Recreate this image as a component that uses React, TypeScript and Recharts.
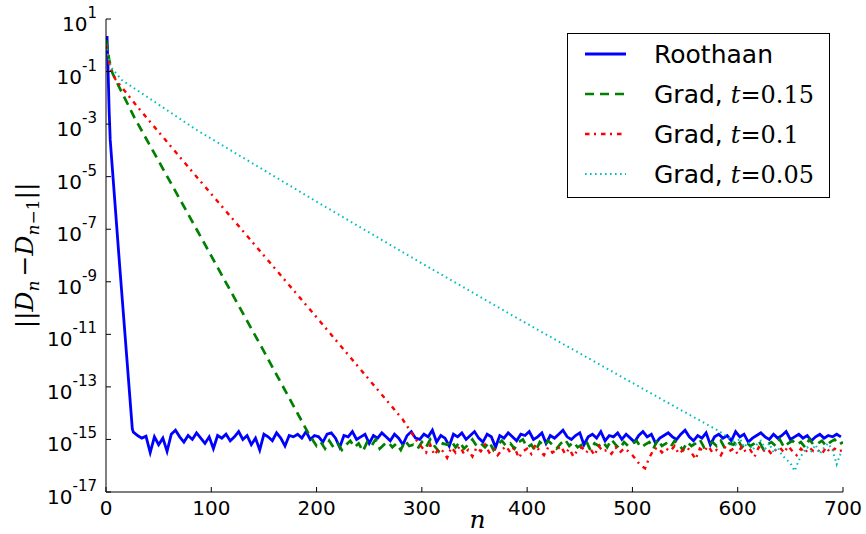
import { LineChart, Line, XAxis, YAxis, Label } from "recharts";

const xTicks = [0, 100, 200, 300, 400, 500, 600, 700];
const yTickExps = [1, -1, -3, -5, -7, -9, -11, -13, -15, -17];

// iterations are sampled every 4 steps once a method hits the round-off floor
const floorStep = 4;

// values are log10 of ||D_n - D_{n-1}||
const roothaanDecayN = [0, 1, 2, 3, 4, 13, 25];
const roothaanDecayExp = [0.3, 0.3, -1.0, -2.5, -3.6, -8.4, -14.6];
const roothaanFloorStart = 26;
const roothaanFloorExp = [
  -14.72, -14.85, -14.95, -14.88, -15.5, -14.9, -15.2, -14.95, -15.45, -14.8,
  -14.65, -14.9, -15.1, -14.85, -15.0, -14.75, -14.95, -15.15, -14.9, -15.35,
  -14.85, -14.95, -14.8, -15.05, -14.9, -14.7, -15.0, -14.85, -15.2, -14.95,
  -15.4, -14.8, -14.9, -15.05, -14.75, -14.95, -15.25, -14.85, -14.9, -14.8,
  -14.95, -14.7, -15.0, -14.85, -14.9, -15.1, -14.8, -14.75, -14.95, -15.3,
  -14.85, -14.9, -14.7, -15.0, -14.9, -14.8, -15.15, -14.85, -14.95, -14.75,
  -14.9, -15.05, -14.8, -14.95, -15.2, -14.85, -14.7, -14.95, -15.0, -14.8,
  -14.9, -14.65, -15.1, -14.85, -14.95, -15.25, -14.8, -14.9, -14.75, -15.0,
  -14.85, -14.7, -14.95, -15.1, -14.8, -14.9, -15.3, -14.85, -14.95, -14.75,
  -14.9, -15.05, -14.8, -14.85, -14.7, -15.0, -14.9, -14.75, -15.15, -14.85,
  -14.95, -14.8, -14.65, -14.9, -15.0, -14.85, -14.75, -15.2, -14.9, -14.8,
  -14.95, -14.7, -15.05, -14.85, -14.9, -14.75, -15.0, -14.8, -14.95, -15.1,
  -14.85, -14.7, -14.9, -14.8, -15.15, -14.95, -14.85, -14.75, -14.9, -15.0,
  -14.8, -14.65, -14.9, -15.05, -14.85, -14.95, -14.75, -15.2, -14.9, -14.8,
  -14.95, -14.85, -15.05, -14.7, -14.9, -14.8, -15.1, -14.95, -14.85, -14.75,
  -14.9, -15.0, -14.8, -14.95, -14.85, -14.7, -15.0, -14.9, -14.8, -14.95,
  -14.85, -15.05, -14.9, -14.8, -14.95, -14.85, -14.9, -14.8, -14.9,
];

const grad15DecayN = [0, 1, 3, 6, 12, 27, 86, 150, 192];
const grad15DecayExp = [0.2, 0.0, -0.55, -1.05, -1.55, -2.75, -7.0, -11.65, -14.75];
const grad15FloorStart = 196;
const grad15FloorExp = [
  -15.0, -15.25, -15.1, -15.35, -15.05, -15.3, -15.15, -15.4, -15.2, -15.05,
  -15.3, -15.15, -15.45, -15.1, -15.25, -15.0, -15.35, -15.2, -15.1, -15.3,
  -15.15, -15.4, -15.05, -15.25, -15.2, -15.35, -15.1, -15.3, -15.0, -15.25,
  -15.45, -15.15, -15.2, -15.05, -15.3, -15.1, -15.35, -15.2, -15.0, -15.25,
  -15.15, -15.3, -15.1, -15.4, -15.2, -15.05, -15.25, -15.15, -15.35, -15.1,
  -15.0, -15.3, -15.2, -15.45, -15.1, -15.25, -15.05, -15.2, -15.35, -15.15,
  -15.0, -15.25, -15.1, -15.3, -15.2, -15.05, -15.4, -15.15, -15.25, -15.1,
  -15.3, -15.0, -15.2, -15.35, -15.1, -15.25, -15.15, -15.05, -15.3, -15.2,
  -15.1, -15.35, -15.0, -15.25, -15.15, -15.3, -15.05, -15.2, -15.4, -15.1,
  -15.25, -15.15, -15.0, -15.3, -15.2, -15.1, -15.25, -15.05, -15.35, -15.15,
  -15.2, -15.0, -15.3, -15.1, -15.25, -15.15, -15.05, -15.35, -15.2, -15.1,
  -15.25, -15.0, -15.3, -15.15, -15.05, -15.2, -15.1, -15.3, -15.0, -15.2,
  -15.15, -15.05, -15.25, -15.1, -15.0, -15.2, -15.1,
];

const grad10DecayN = [0, 2, 5, 9, 30, 87, 200, 282, 296];
const grad10DecayExp = [0.0, -0.5, -0.95, -1.3, -2.35, -5.05, -10.35, -14.25, -15.1];
const grad10FloorStart = 300;
const grad10FloorExp = [
  -15.3, -15.5, -15.2, -15.6, -15.35, -15.45, -15.7, -15.3, -15.5, -15.25,
  -15.55, -15.4, -15.65, -15.3, -15.45, -15.2, -15.5, -15.35, -15.6, -15.4,
  -15.25, -15.5, -15.3, -15.7, -15.45, -15.35, -15.55, -15.2, -15.45, -15.6,
  -15.3, -15.5, -15.4, -15.25, -15.55, -15.35, -15.65, -15.4, -15.3, -15.5,
  -15.35, -15.6, -15.25, -15.45, -15.4, -15.55, -15.3, -15.5, -15.35, -15.45,
  -15.6, -15.8, -16.0, -16.1, -15.7, -15.4, -15.3, -15.5, -15.35, -15.45,
  -15.25, -15.55, -15.4, -15.3, -15.5, -15.75, -15.35, -15.45, -15.25, -15.5,
  -15.4, -15.6, -15.3, -15.45, -15.35, -15.55, -15.25, -15.5, -15.4, -15.65,
  -15.3, -15.45, -15.35, -15.55, -15.4, -15.3, -15.5, -15.25, -15.45, -15.6,
  -15.35, -15.5, -15.3, -15.45, -15.4, -15.55, -15.3, -15.5, -15.35, -15.45,
  -15.4,
];

const grad05DecayN = [0, 2, 5, 15, 86, 200, 300, 400, 529, 583, 590];
const grad05DecayExp = [0.05, -0.45, -0.85, -1.32, -3.22, -5.95, -8.3, -10.6, -13.5, -14.7, -14.9];
const grad05FloorStart = 594;
const grad05FloorExp = [
  -15.0, -15.2, -14.95, -15.3, -15.1, -15.4, -15.2, -15.05, -15.35, -15.15,
  -15.5, -15.3, -15.6, -15.75, -15.9, -16.2, -15.8, -15.5, -15.3, -15.45,
  -15.2, -15.55, -15.3, -15.15, -15.4, -15.95, -15.5,
];

function buildSeries(decayN: number[], decayExp: number[], floorStart: number, floorExp: number[]) {
  const pts = decayN.map((n, i) => ({ n, v: Math.pow(10, decayExp[i]) }));
  floorExp.forEach((e, i) => pts.push({ n: floorStart + i * floorStep, v: Math.pow(10, e) }));
  return pts;
}

const series = [
  {
    key: "roothaan",
    label: "Roothaan",
    t: "",
    color: "#0000ff",
    width: 2.8,
    dash: undefined as string | undefined,
    data: buildSeries(roothaanDecayN, roothaanDecayExp, roothaanFloorStart, roothaanFloorExp),
  },
  {
    key: "grad15",
    label: "Grad, ",
    t: "0.15",
    color: "#008000",
    width: 2.7,
    dash: "9 6",
    data: buildSeries(grad15DecayN, grad15DecayExp, grad15FloorStart, grad15FloorExp),
  },
  {
    key: "grad10",
    label: "Grad, ",
    t: "0.1",
    color: "#ff0000",
    width: 2.4,
    dash: "4.5 4.5 2 5",
    data: buildSeries(grad10DecayN, grad10DecayExp, grad10FloorStart, grad10FloorExp),
  },
  {
    key: "grad05",
    label: "Grad, ",
    t: "0.05",
    color: "#00bfbf",
    width: 2,
    dash: "1.6 3.4",
    data: buildSeries(grad05DecayN, grad05DecayExp, grad05FloorStart, grad05FloorExp),
  },
];

const yTicks = yTickExps.map((e) => Math.pow(10, e));
const yDomain = [Math.pow(10, -17), 10];

function PowerTick({ x, y, payload }: any) {
  const e = Math.round(Math.log10(payload.value));
  return (
    <text x={x} y={y} textAnchor="end" fontFamily="DejaVu Sans" fill="#000">
      <tspan fontSize={20} dy={12}>10</tspan>
      <tspan fontSize={15} dy={-13}>{String(e)}</tspan>
    </text>
  );
}

function YTitle({ viewBox }: any) {
  const cx = viewBox.x + 33;
  const cy = viewBox.y + viewBox.height / 2;
  return (
    <text
      transform={`translate(${cx},${cy}) rotate(-90)`}
      textAnchor="middle"
      fontFamily="DejaVu Serif"
      fontSize={25}
      fill="#000"
    >
      <tspan>||</tspan>
      <tspan fontStyle="italic">D</tspan>
      <tspan fontStyle="italic" fontSize={17} dy={6}>n</tspan>
      <tspan dy={-6} dx={4}>−</tspan>
      <tspan fontStyle="italic">D</tspan>
      <tspan fontSize={17} dy={6}>
        <tspan fontStyle="italic">n</tspan>−1
      </tspan>
      <tspan dy={-6}>||</tspan>
    </text>
  );
}

function XTitle({ viewBox }: any) {
  return (
    <text
      x={viewBox.x + viewBox.width / 2 + 3}
      y={viewBox.y + 36}
      textAnchor="middle"
      fontFamily="DejaVu Serif"
      fontStyle="italic"
      fontSize={25}
      fill="#000"
    >
      n
    </text>
  );
}

const rowCenters = [20, 60, 100, 140];

function LegendBox() {
  return (
    <div
      style={{
        position: "absolute",
        left: 567,
        top: 33,
        width: 263,
        height: 165,
        boxSizing: "border-box",
        border: "1px solid #000",
        background: "#fff",
      }}
    >
      {series.map((s, i) => (
        <div
          key={s.key}
          style={{
            position: "absolute",
            left: 0,
            top: rowCenters[i] - 18,
            height: 36,
            display: "flex",
            alignItems: "center",
            whiteSpace: "nowrap",
          }}
        >
          <svg width={42} height={8} style={{ marginLeft: 17 }}>
            <line
              x1={0}
              y1={4}
              x2={41}
              y2={4}
              stroke={s.color}
              strokeWidth={s.width}
              strokeDasharray={s.dash}
            />
          </svg>
          <span style={{ marginLeft: 27, fontFamily: "DejaVu Sans", fontSize: 25, color: "#000" }}>
            {s.label}
            {s.t && (
              <span style={{ fontFamily: "DejaVu Serif", fontSize: 24 }}>
                <i>t</i>={s.t}
              </span>
            )}
          </span>
        </div>
      ))}
    </div>
  );
}

const axisStroke = { stroke: "#000", strokeWidth: 1 };

export default function App() {
  return (
    <div style={{ position: "absolute", left: 0, top: 0, width: 866, height: 534, background: "#fff" }}>
      <LineChart width={866} height={534} margin={{ top: 19, right: 23, left: 0, bottom: 0 }}>
        <XAxis
          dataKey="n"
          type="number"
          domain={[0, 700]}
          ticks={xTicks}
          allowDataOverflow
          height={42}
          axisLine={axisStroke}
          tickLine={axisStroke}
          tickSize={-5}
          tickMargin={14}
          tick={{ fontSize: 20, fill: "#000", fontFamily: "DejaVu Sans" }}
        >
          <Label content={XTitle} />
        </XAxis>
        <XAxis
          xAxisId="top"
          orientation="top"
          type="number"
          domain={[0, 700]}
          ticks={xTicks}
          allowDataOverflow
          height={0}
          axisLine={axisStroke}
          tickLine={axisStroke}
          tickSize={-5}
          tick={false}
        />
        <YAxis
          scale="log"
          type="number"
          domain={yDomain}
          ticks={yTicks}
          allowDataOverflow
          width={106}
          axisLine={axisStroke}
          tickLine={axisStroke}
          tickSize={-5}
          tickMargin={14}
          tick={<PowerTick />}
        >
          <Label content={YTitle} />
        </YAxis>
        <YAxis
          yAxisId="right"
          orientation="right"
          scale="log"
          type="number"
          domain={yDomain}
          ticks={yTicks}
          allowDataOverflow
          width={0}
          axisLine={axisStroke}
          tickLine={axisStroke}
          tickSize={-5}
          tick={false}
        />
        {series.map((s) => (
          <Line
            key={s.key}
            data={s.data}
            dataKey="v"
            type="linear"
            stroke={s.color}
            strokeWidth={s.width}
            strokeDasharray={s.dash}
            dot={false}
            activeDot={false}
            isAnimationActive={false}
          />
        ))}
      </LineChart>
      <LegendBox />
    </div>
  );
}
